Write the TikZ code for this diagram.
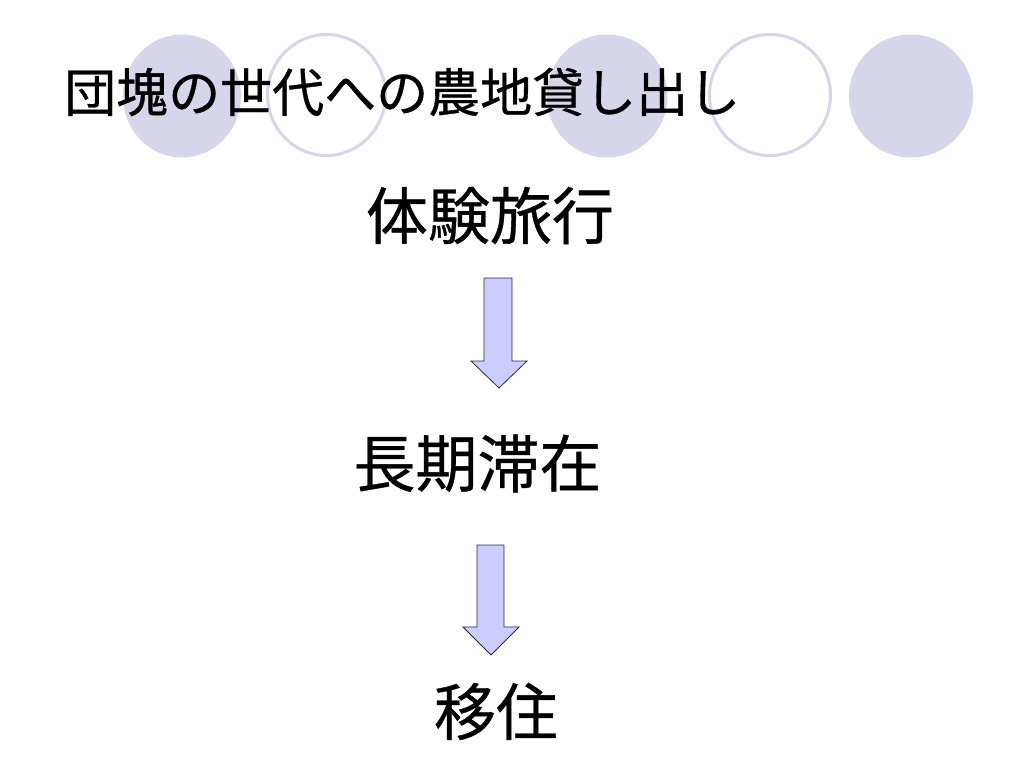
\documentclass[tikz,border=0pt]{standalone}
\usepackage{fontspec}
\setmainfont{Noto Sans CJK JP}
\newfontfamily\jp[FakeBold=0.6]{Noto Sans CJK JP}
\definecolor{circfill}{RGB}{214,214,235}
\definecolor{arrfill}{RGB}{204,204,255}
\definecolor{arrline}{RGB}{40,40,80}
\tikzset{
  filledcirc/.style={fill=circfill, draw=none},
  ringcirc/.style={draw=circfill, line width=3pt, fill=white},
  titletext/.style={inner sep=0pt, font=\jp\fontsize{52}{62}\selectfont, anchor=west},
  bodytext/.style={inner sep=0pt, font=\jp\fontsize{62}{74}\selectfont},
  blockarrow/.style={fill=arrfill, draw=arrline, line width=0.8pt, line join=miter},
}
\begin{document}
\begin{tikzpicture}[x=1pt,y=-1pt]
\useasboundingbox (0,0) rectangle (1024,768);
\fill[white] (0,0) rectangle (1024,768);
% decorative circles
\fill[filledcirc] (182,96) ellipse [x radius=59, y radius=61.5];
\draw[ringcirc] (326.5,95) ellipse [x radius=59, y radius=60.5];
\fill[filledcirc] (607,96) ellipse [x radius=60.5, y radius=61.5];
\draw[ringcirc] (770,95) ellipse [x radius=60.5, y radius=60.5];
\fill[filledcirc] (911,96) ellipse [x radius=62, y radius=61.5];
% title
\node[titletext] (title) at (64,92) {団塊の世代への農地貸し出し};
% steps
\node[bodytext] (s1) at (490,215.5) {体験旅行};
\node[bodytext] (s2) at (477.5,463.5) {長期滞在};
\node[bodytext] (s3) at (496,711.5) {移住};
% block arrows
\draw[blockarrow] (484,278) -- (512,278) -- (512,361) -- (527,361) -- (499,388) -- (471,361) -- (484,361) -- cycle;
\draw[blockarrow] (477,545) -- (504,545) -- (504,627) -- (519,627) -- (491,655) -- (463,627) -- (477,627) -- cycle;
\end{tikzpicture}
\end{document}
